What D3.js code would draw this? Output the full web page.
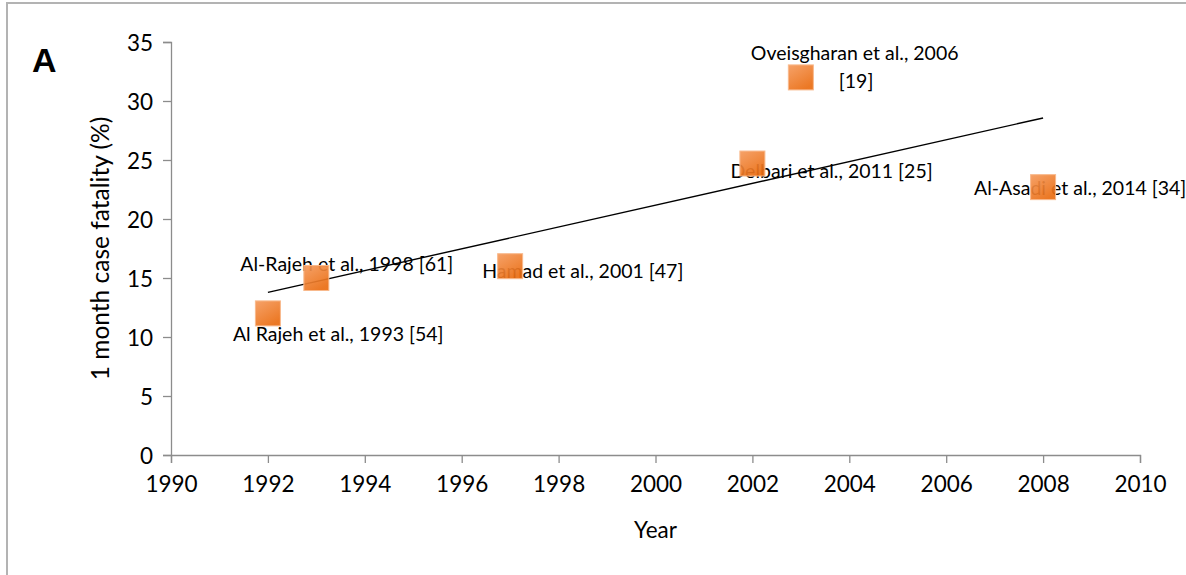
<!DOCTYPE html>
<html>
<head>
<meta charset="utf-8">
<script src="https://cdn.jsdelivr.net/npm/d3@7"></script>
<style>
  html, body { margin: 0; padding: 0; background: #fff; }
  svg { display: block; font-family: Lato, "Open Sans", sans-serif; }
</style>
</head>
<body>
<svg id="chart" width="1186" height="575"></svg>
<script>
// data
const years = [1992, 1993, 1997, 2002, 2003, 2008];
const fatality = [12, 15, 16, 24.7, 32, 22.7];
const labels = [
  ['Al Rajeh et al., 1993 [54]'],
  ['Al-Rajeh et al., 1998 [61]'],
  ['Hamad et al., 2001 [47]'],
  ['Delbari et al., 2011 [25]'],
  ['Oveisgharan et al., 2006', '[19]'],
  ['Al-Asadi et al., 2014 [34]']
];
const xTicks = [1990, 1992, 1994, 1996, 1998, 2000, 2002, 2004, 2006, 2008, 2010];
const yTicks = [0, 5, 10, 15, 20, 25, 30, 35];

// label placement relative to each marker (pixels), one entry per text line
const labelOffsets = [
  [[-35, 28]],
  [[-76, -7]],
  [[-28, 12]],
  [[-22, 14]],
  [[-50, -17], [38, 11]],
  [[-69, 8]]
];

const svg = d3.select('#chart');
const margin = { left: 171, right: 46, top: 42, bottom: 120 };
const W = 1186, H = 575;

const x = d3.scaleLinear().domain([1990, 2010]).range([margin.left, W - margin.right]);
const y = d3.scaleLinear().domain([0, 35]).range([H - margin.bottom, margin.top]);

// outer frame (right/bottom edges fall outside the picture)
svg.append('rect')
  .attr('x', 7).attr('y', 3)
  .attr('width', W + 20).attr('height', H + 20)
  .attr('fill', 'none').attr('stroke', '#b3b3b3').attr('stroke-width', 2);

svg.append('text')
  .attr('x', 32).attr('y', 72)
  .attr('font-size', 34).attr('font-weight', 'bold')
  .attr('font-family', '"Liberation Sans", Arial, sans-serif')
  .text('A');

// axes
const axisColor = '#8c8c8c';
const gx = svg.append('g')
  .attr('transform', `translate(0,${y(0)})`)
  .call(d3.axisBottom(x).tickValues(xTicks).tickFormat(d3.format('d')).tickSizeOuter(0).tickSize(8).tickPadding(10));
const gy = svg.append('g')
  .attr('transform', `translate(${x(1990)},0)`)
  .call(d3.axisLeft(y).tickValues(yTicks).tickSizeOuter(0).tickSize(8).tickPadding(10));
[gx, gy].forEach(g => {
  g.select('.domain').attr('stroke', axisColor).attr('stroke-width', 1.3);
  g.selectAll('.tick line').attr('stroke', axisColor).attr('stroke-width', 1.3);
  g.selectAll('.tick text').attr('fill', '#000').attr('font-size', 22.5)
    .attr('font-family', 'Lato, sans-serif');
});
gx.selectAll('.tick text').attr('dy', '0.85em');
gy.selectAll('.tick text').attr('dy', '0.36em');

svg.append('text')
  .attr('x', (x(1990) + x(2010)) / 2).attr('y', 538)
  .attr('text-anchor', 'middle').attr('font-size', 22.5)
  .text('Year');

svg.append('text')
  .attr('transform', `translate(109,${(y(0) + y(35)) / 2}) rotate(-90)`)
  .attr('text-anchor', 'middle').attr('font-size', 24.5)
  .text('1 month case fatality (%)');

// linear trendline (least squares on the points)
const mx = d3.mean(years), my = d3.mean(fatality);
const sxy = d3.sum(years, (v, i) => (v - mx) * (fatality[i] - my));
const sxx = d3.sum(years, v => (v - mx) * (v - mx));
const slope = sxy / sxx, icpt = my - slope * mx;
const x0 = d3.min(years), x1 = d3.max(years);
svg.append('line')
  .attr('x1', x(x0)).attr('y1', y(icpt + slope * x0))
  .attr('x2', x(x1)).attr('y2', y(icpt + slope * x1))
  .attr('stroke', '#000').attr('stroke-width', 1.4);

// labels
const pts = years.map((yr, i) => ({ yr, v: fatality[i], lines: labels[i], off: labelOffsets[i] }));
const lab = svg.append('g').attr('font-size', 19.5).attr('fill', '#000');
pts.forEach(p => {
  p.lines.forEach((t, j) => {
    lab.append('text')
      .attr('x', x(p.yr) + p.off[j][0])
      .attr('y', y(p.v) + p.off[j][1])
      .text(t);
  });
});

// markers
const defs = svg.append('defs');
const grad = defs.append('linearGradient').attr('id', 'sq')
  .attr('x1', 0).attr('y1', 0).attr('x2', 0.6).attr('y2', 1);
grad.append('stop').attr('offset', '0%').attr('stop-color', '#f59a5c');
grad.append('stop').attr('offset', '100%').attr('stop-color', '#ea6d12');

const s = 25;
svg.append('g').selectAll('rect')
  .data(pts)
  .join('rect')
  .attr('x', d => x(d.yr) - s / 2)
  .attr('y', d => y(d.v) - s / 2)
  .attr('width', s).attr('height', s)
  .attr('fill', 'url(#sq)')
  .attr('fill-opacity', 0.92)
  .attr('stroke', '#f8b98c').attr('stroke-width', 1);
</script>
</body>
</html>
